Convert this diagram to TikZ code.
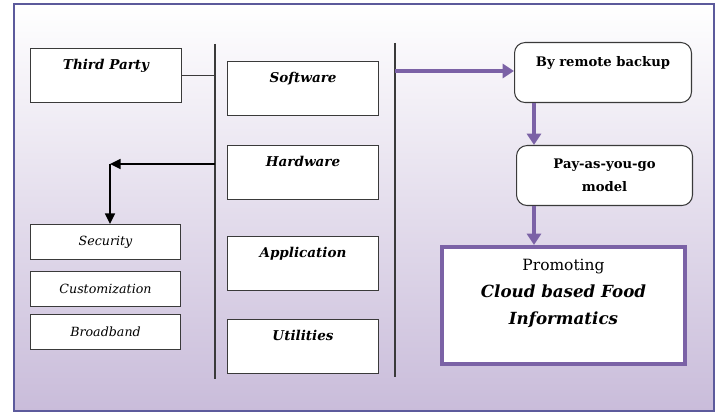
\documentclass[tikz,border=0pt]{standalone}
\usepackage{fontspec}
\setmainfont{DejaVu Serif}
\usetikzlibrary{arrows.meta, positioning}
\definecolor{frameblue}{HTML}{5C5A9C}
\definecolor{lilac}{HTML}{C9BCDA}
\definecolor{plum}{HTML}{7B62A6}
\definecolor{boxline}{HTML}{3A3A3A}

\begin{document}
\begin{tikzpicture}[
  x=0.02cm, y=-0.02cm,
  tierbox/.style={rectangle, draw=boxline, fill=white, line width=0.6pt, inner sep=0pt, anchor=north west, minimum width=3.02cm, text height=0.42cm, text depth=0.66cm, font=\fontsize{7.7}{9}\selectfont\bfseries\itshape},
  featbox/.style={rectangle, draw=boxline, fill=white, line width=0.6pt, inner sep=0pt, anchor=north west, minimum width=3cm, minimum height=0.7cm, font=\fontsize{7.2}{9}\selectfont\itshape},
  cloudbox/.style={rectangle, rounded corners=6pt, draw=boxline, fill=white, line width=0.6pt, inner sep=0pt, anchor=north west, minimum width=3.54cm, align=center, font=\fontsize{7.5}{13}\selectfont\bfseries},
  bar/.style={draw=boxline, line width=0.7pt},
  link/.style={draw=boxline, line width=0.6pt},
  blackarr/.style={-{Triangle[length=6pt, width=5.5pt]}, line width=1.3pt, black},
  plumarr/.style={-{Triangle[length=6.5pt, width=8pt]}, line width=2.8pt, color=plum}
]
\useasboundingbox (0,0) rectangle (718,412);
\shade[top color=white, bottom color=lilac] (14,4) rectangle (714,411);
\draw[frameblue, line width=1pt] (14,4) rectangle (714,411);

% the two dividers
\coordinate (leftbartop) at (215,44);
\coordinate (leftbarbot) at (215,379);
\coordinate (rightbartop) at (395,43);
\coordinate (rightbarbot) at (395,377);
\draw[bar] (leftbartop) -- (leftbarbot);
\draw[bar] (rightbartop) -- (rightbarbot);

% left column
\node[tierbox] (thirdparty) at (30,48) {Third Party};
\node[featbox] (security) at (30,224) {Security};
\node[featbox] (custom) at (30,271) {Customization};
\node[featbox] (broadband) at (30,314) {Broadband};

% middle column
\node[tierbox] (software) at (227,61) {Software};
\node[tierbox] (hardware) at (227,145) {Hardware};
\node[tierbox] (application) at (227,236) {Application};
\node[tierbox] (utilities) at (227,319) {Utilities};

% right column
\node[cloudbox, text height=0.48cm, text depth=0.72cm] (backup) at (514,42) {By remote backup};
\node[cloudbox, minimum height=1.2cm, minimum width=3.52cm] (payg) at (516,145) {Pay-as-you-go\\model};
\node[rectangle, draw=plum, line width=2.3pt, fill=white, anchor=north west, minimum width=4.86cm, minimum height=2.34cm] (promo) at (440,245) {};
\node[anchor=north, inner sep=0pt, align=center, font=\fontsize{9.5}{15.5}\selectfont\bfseries\itshape] (promotext) at ([yshift=-0.27cm]promo.north) {{\fontsize{8.8}{15.5}\selectfont\mdseries\upshape Promoting}\\Cloud based Food\\Informatics};

% connectors
\coordinate (hwtap) at (215,164);
\coordinate (bend) at (110,164);
\coordinate (swtap) at (395,71);
\draw[link] (thirdparty.east) -- (thirdparty.east -| leftbartop);
\draw[blackarr] (hwtap) -- (bend);
\draw[blackarr] (bend) -- (bend |- security.north);
\draw[plumarr] (swtap) -- (swtap -| backup.west);
\draw[plumarr] ([xshift=0.4cm]backup.south west) -- ([xshift=0.4cm]backup.south west |- payg.north);
\draw[plumarr] ([xshift=0.36cm]payg.south west) -- ([xshift=0.36cm]payg.south west |- promo.north);
\end{tikzpicture}
\end{document}
